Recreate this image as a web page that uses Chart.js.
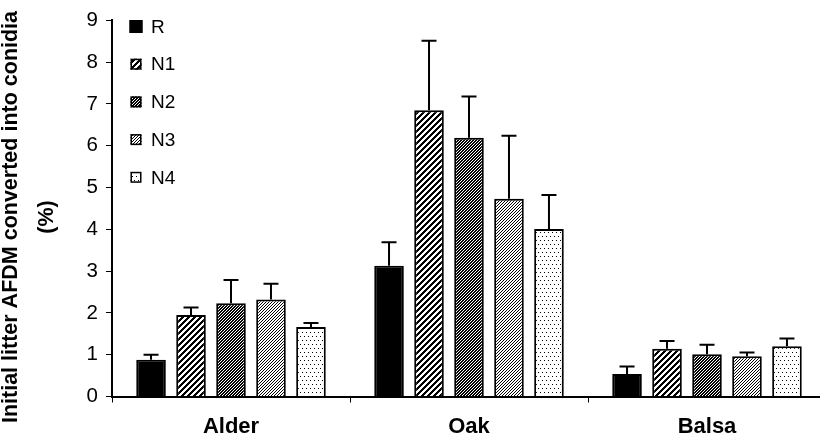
<!DOCTYPE html>
<html>
<head>
<meta charset="utf-8">
<script src="https://cdn.jsdelivr.net/npm/chart.js@4.4.1/dist/chart.umd.min.js"></script>
<style>
  html, body { margin: 0; padding: 0; background: #fff; overflow: hidden; }
  #wrap { width: 830px; height: 440px; }
</style>
</head>
<body>
<div id="wrap"><canvas id="myChart" width="830" height="440"></canvas></div>
<script>
const ctx = document.getElementById('myChart');

// data
const categories = ["Alder", "Oak", "Balsa"];
const seriesNames = ["R", "N1", "N2", "N3", "N4"];
const valuesR  = [0.88, 3.13, 0.54];
const valuesN1 = [1.95, 6.85, 1.14];
const valuesN2 = [2.23, 6.19, 1.01];
const valuesN3 = [2.32, 4.73, 0.96];
const valuesN4 = [1.66, 4.01, 1.20];
const errR  = [0.12, 0.56, 0.18];
const errN1 = [0.18, 1.66, 0.19];
const errN2 = [0.56, 0.99, 0.23];
const errN3 = [0.38, 1.51, 0.09];
const errN4 = [0.10, 0.81, 0.19];
const yTicks = [0, 1, 2, 3, 4, 5, 6, 7, 8, 9];
const yTitle = ["Initial litter AFDM converted into conidia", "(%)"];

const allValues = [valuesR, valuesN1, valuesN2, valuesN3, valuesN4];
const allErrors = [errR, errN1, errN2, errN3, errN4];

// fill patterns, drawn pixel by pixel
function makePattern(kind) {
    const size = kind == "wide" ? 6 : (kind == "dots" ? 8 : 3);
    const c = document.createElement('canvas');
    c.width = size; c.height = size;
    const g = c.getContext('2d');
    const img = g.createImageData(size, size);
    for (let y = 0; y < size; y++) {
        for (let x = 0; x < size; x++) {
            let on = false;
            if (kind == "solid") on = true;
            else if (kind == "wide") on = ((x + y) % 6) < 3;
            else if (kind == "dark") on = ((x + y) % 3) < 2;
            else if (kind == "light") on = ((x + y) % 3) < 1;
            else if (kind == "dots") on = (x % 4 == 0 && y == 0) || (x % 4 == 2 && y == 4);
            const v = on ? 0 : 255;
            const i = (y * size + x) * 4;
            img.data[i] = v; img.data[i + 1] = v; img.data[i + 2] = v; img.data[i + 3] = 255;
        }
    }
    g.putImageData(img, 0, 0);
    return g.createPattern(c, 'repeat');
}
const fillKinds = ["solid", "wide", "dark", "light", "dots"];
const fills = fillKinds.map(k => makePattern(k));

const FONT = "'Liberation Sans', Arial, sans-serif";

// upper error bars
const errorBars = {
    id: 'errorBars',
    afterDatasetsDraw(chart) {
        const c = chart.ctx;
        const yScale = chart.scales.y;
        c.save();
        c.strokeStyle = '#000';
        c.lineWidth = 2;
        chart.data.datasets.forEach((ds, di) => {
            const meta = chart.getDatasetMeta(di);
            meta.data.forEach((bar, i) => {
                const top = yScale.getPixelForValue(ds.data[i] + allErrors[di][i]);
                c.beginPath();
                c.moveTo(bar.x, bar.y);
                c.lineTo(bar.x, top);
                c.moveTo(bar.x - 7.5, top);
                c.lineTo(bar.x + 7.5, top);
                c.stroke();
            });
        });
        c.restore();
    }
};

// legend inside the plot, top left
const boxLegend = {
    id: 'boxLegend',
    afterDraw(chart) {
        const c = chart.ctx;
        c.save();
        c.font = "19px " + FONT;
        c.textBaseline = 'middle';
        seriesNames.forEach((name, i) => {
            const y = 26.5 + i * 37.7;
            const s = i == 0 ? 13 : 11;
            c.fillStyle = fills[i];
            c.fillRect(136 - s / 2, y - s / 2, s, s);
            c.strokeStyle = '#000';
            c.lineWidth = 1.5;
            c.strokeRect(136 - s / 2 + 0.75, y - s / 2 + 0.75, s - 1.5, s - 1.5);
            c.fillStyle = '#000';
            c.fillText(name, 151, y + 1);
        });
        c.restore();
    }
};

// two line rotated axis title
const axisTitle = {
    id: 'axisTitle',
    afterDraw(chart) {
        const c = chart.ctx;
        c.save();
        c.font = "bold 21.5px " + FONT;
        c.fillStyle = '#000';
        c.textAlign = 'center';
        c.textBaseline = 'middle';
        c.translate(11, 217);
        c.rotate(-Math.PI / 2);
        c.fillText(yTitle[0], 0, 0);
        c.fillText(yTitle[1], 0, 36);
        c.restore();
    }
};

new Chart(ctx, {
    type: 'bar',
    data: {
        labels: categories,
        datasets: seriesNames.map((name, i) => ({
            label: name,
            data: allValues[i],
            backgroundColor: fills[i],
            borderColor: '#000',
            borderWidth: 2,
            borderSkipped: 'bottom',
            barPercentage: 0.74,
            categoryPercentage: 0.84
        }))
    },
    options: {
        responsive: false,
        animation: false,
        layout: { padding: { top: 15, right: 4, left: 0, bottom: 0 } },
        plugins: {
            legend: { display: false },
            tooltip: { enabled: false }
        },
        scales: {
            x: {
                afterFit: (scale) => { scale.height = 43.5; },
                border: { color: '#000', width: 2 },
                grid: { drawOnChartArea: false, drawTicks: true, tickLength: 6, color: '#000', lineWidth: 1 },
                ticks: { color: '#000', padding: 11, font: { family: FONT, size: 22, weight: 'bold' } }
            },
            y: {
                min: 0,
                max: 9,
                afterFit: (scale) => { scale.width = 112; },
                afterBuildTicks: (scale) => { scale.ticks = yTicks.map(v => ({ value: v })); },
                border: { color: '#000', width: 2 },
                grid: { drawOnChartArea: false, drawTicks: true, tickLength: 6, color: '#000', lineWidth: 1 },
                ticks: { color: '#000', padding: 8, font: { family: FONT, size: 20.5 } }
            }
        }
    },
    plugins: [errorBars, boxLegend, axisTitle]
});
</script>
</body>
</html>
